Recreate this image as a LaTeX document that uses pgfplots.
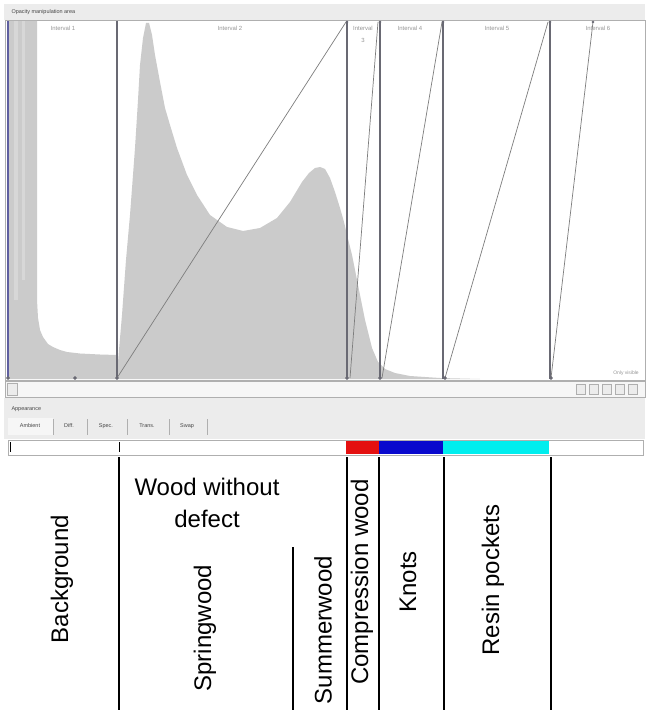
\documentclass[border=0pt]{standalone}
\usepackage{fontspec}
\setmainfont{Liberation Sans}
\usepackage{pgfplots}
\pgfplotsset{compat=1.18}
\definecolor{hist}{RGB}{203,203,203}
\definecolor{histl}{RGB}{215,215,215}
\definecolor{uibg}{RGB}{236,236,236}
\definecolor{frame}{RGB}{175,175,175}
\definecolor{linec}{RGB}{105,105,115}
\definecolor{ivl}{RGB}{95,95,160}
\definecolor{diag}{RGB}{125,125,125}
\definecolor{cred}{RGB}{228,16,16}
\definecolor{cblue}{RGB}{8,8,205}
\definecolor{ccyan}{RGB}{0,238,238}
\definecolor{uitext}{RGB}{70,70,70}
\definecolor{ivtext}{RGB}{150,150,150}
\begin{document}
\begin{tikzpicture}
\begin{axis}[scale only axis, width=645bp, height=713bp,
  xmin=0, xmax=645, ymin=0, ymax=713, y dir=reverse,
  hide axis, clip=false, no markers]
% page background
\addplot[fill=white, draw=none] coordinates {(0,0)(645,0)(645,713)(0,713)} -- cycle;
% title bar
\addplot[fill=uibg, draw=none] coordinates {(4,4)(645,4)(645,20)(4,20)} -- cycle;
% histogram area
\addplot[fill=white, draw=frame, line width=0.6bp] coordinates {(5,20)(645,20)(645,380)(5,380)} -- cycle;
% histogram interval 1
\addplot[fill=hist, draw=none] coordinates {(8,21)(37,21)(37,300)(38,318)(40,330)(43,337)(48,344)(53,347)(60,350)(67,352)(80,353.5)(100,354.5)(117,355)(117,379)(8,379)} -- cycle;
\addplot[fill=histl, draw=none] coordinates {(14,21)(18,21)(18,300)(14,300)} -- cycle;
\addplot[fill=histl, draw=none] coordinates {(22,21)(25,21)(25,280)(22,280)} -- cycle;
% histogram main
\addplot[fill=hist, draw=none] coordinates {(117,379)(117,375)(119,350)(122,315)(126,260)(130,215)(133,175)(135,148)(138,100)(140,65)(143,38)(146,23)(149,23)(152,35)(155,55)(160,82)(165,108)(170,125)(177,148)(187,175)(197,195)(210,215)(227,227)(243,231)(260,228)(277,218)(290,202)(302,182)(309,173)(315,168)(320,167)(325,169)(330,178)(335,192)(340,208)(344,222)(347,235)(352,255)(358,285)(365,320)(372,348)(378,362)(385,369)(395,373)(410,376)(440,378)(480,379)} -- cycle;
% interval lines
\addplot[draw=ivl, line width=1.6bp] coordinates {(8,21)(8,379)};
\addplot[draw=linec, line width=1.1bp] coordinates {(117,21)(117,379)};
\addplot[draw=linec, line width=1.1bp] coordinates {(347,21)(347,379)};
\addplot[draw=linec, line width=1.1bp] coordinates {(380,21)(380,379)};
\addplot[draw=linec, line width=1.1bp] coordinates {(443,21)(443,379)};
\addplot[draw=linec, line width=1.1bp] coordinates {(550,21)(550,379)};
% diagonals
\addplot[draw=diag, line width=0.7bp] coordinates {(117,378)(346,22)};
\addplot[draw=diag, line width=0.7bp] coordinates {(350,378)(378,22)};
\addplot[draw=diag, line width=0.7bp] coordinates {(382,378)(442,22)};
\addplot[draw=diag, line width=0.7bp] coordinates {(445,378)(548,22)};
\addplot[draw=diag, line width=0.7bp] coordinates {(551,378)(593,22)};
% markers
\addplot[only marks, mark=*, mark size=1.6bp, color=linec] coordinates {(8,378)(75,378)(117,378)(347,378)(380,378)(445,378)(551,378)};
\addplot[only marks, mark=*, mark size=1.2bp, color=linec] coordinates {(347,22)(380,22)(443,22)(550,22)(593,22)};
% interval labels
\node[font=\fontsize{6}{7}\selectfont, text=ivtext] at (axis cs:63,28) {Interval 1};
\node[font=\fontsize{6}{7}\selectfont, text=ivtext] at (axis cs:230,28) {Interval 2};
\node[font=\fontsize{6}{7}\selectfont, text=ivtext] at (axis cs:363,28) {Interval};
\node[font=\fontsize{6}{7}\selectfont, text=ivtext] at (axis cs:363,40) {3};
\node[font=\fontsize{6}{7}\selectfont, text=ivtext] at (axis cs:410,28) {Interval 4};
\node[font=\fontsize{6}{7}\selectfont, text=ivtext] at (axis cs:497,28) {Interval 5};
\node[font=\fontsize{6}{7}\selectfont, text=ivtext] at (axis cs:598,28) {Interval 6};
\node[font=\fontsize{5.5}{6}\selectfont, text=uitext, anchor=west] at (axis cs:8,12) {Opacity manipulation area};
\node[font=\fontsize{5}{6}\selectfont, text=ivtext] at (axis cs:626,373) {Only visible};
% scrollbar
\addplot[fill={rgb,255:red,246;green,246;blue,246}, draw=frame, line width=0.5bp] coordinates {(5,381)(645,381)(645,397)(5,397)} -- cycle;
\addplot[fill=uibg, draw=frame, line width=0.5bp] coordinates {(7,383)(17,383)(17,395)(7,395)} -- cycle;
\addplot[fill=uibg, draw=frame, line width=0.5bp] coordinates {(576,384)(585,384)(585,394)(576,394)} -- cycle;
\addplot[fill=uibg, draw=frame, line width=0.5bp] coordinates {(589,384)(598,384)(598,394)(589,394)} -- cycle;
\addplot[fill=uibg, draw=frame, line width=0.5bp] coordinates {(602,384)(611,384)(611,394)(602,394)} -- cycle;
\addplot[fill=uibg, draw=frame, line width=0.5bp] coordinates {(615,384)(624,384)(624,394)(615,394)} -- cycle;
\addplot[fill=uibg, draw=frame, line width=0.5bp] coordinates {(628,384)(637,384)(637,394)(628,394)} -- cycle;
% appearance panel
\addplot[fill=uibg, draw=none] coordinates {(4,398)(645,398)(645,439)(4,439)} -- cycle;
\node[font=\fontsize{5.5}{6}\selectfont, text=uitext, anchor=west] at (axis cs:8,409) {Appearance};
\addplot[fill={rgb,255:red,246;green,246;blue,246}, draw=none] coordinates {(8,418)(53,418)(53,435)(8,435)} -- cycle;
\addplot[draw=frame, line width=0.8bp] coordinates {(53,419)(53,435)};
\addplot[draw=frame, line width=0.8bp] coordinates {(87,419)(87,435)};
\addplot[draw=frame, line width=0.8bp] coordinates {(127,419)(127,435)};
\addplot[draw=frame, line width=0.8bp] coordinates {(169,419)(169,435)};
\addplot[draw=frame, line width=0.8bp] coordinates {(207,419)(207,435)};
\node[font=\fontsize{5.5}{6}\selectfont, text=uitext] at (axis cs:30,426) {Ambient};
\node[font=\fontsize{5.5}{6}\selectfont, text=uitext] at (axis cs:69,426) {Diff.};
\node[font=\fontsize{5.5}{6}\selectfont, text=uitext] at (axis cs:106,426) {Spec.};
\node[font=\fontsize{5.5}{6}\selectfont, text=uitext] at (axis cs:147,426) {Trans.};
\node[font=\fontsize{5.5}{6}\selectfont, text=uitext] at (axis cs:187,426) {Swap};
% colour bar
\addplot[fill=white, draw=frame, line width=0.7bp] coordinates {(8,440)(643,440)(643,455)(8,455)} -- cycle;
\addplot[fill=cred, draw=none] coordinates {(346,441)(379,441)(379,454)(346,454)} -- cycle;
\addplot[fill=cblue, draw=none] coordinates {(379,441)(443,441)(443,454)(379,454)} -- cycle;
\addplot[fill=ccyan, draw=none] coordinates {(443,441)(549,441)(549,454)(443,454)} -- cycle;
\addplot[draw=black, line width=0.7bp] coordinates {(10,442)(10,452)};
\addplot[draw=black, line width=0.7bp] coordinates {(119,442)(119,452)};
% class boundaries
\addplot[draw=black, line width=1.5bp] coordinates {(119,457)(119,710)};
\addplot[draw=black, line width=1.5bp] coordinates {(293,547)(293,710)};
\addplot[draw=black, line width=1.5bp] coordinates {(347,457)(347,710)};
\addplot[draw=black, line width=1.5bp] coordinates {(379,457)(379,710)};
\addplot[draw=black, line width=1.5bp] coordinates {(444,457)(444,710)};
\addplot[draw=black, line width=1.5bp] coordinates {(551,457)(551,710)};
% class labels
\node[font=\fontsize{24bp}{28bp}\selectfont, anchor=base] at (axis cs:207,495) {Wood without};
\node[font=\fontsize{24bp}{28bp}\selectfont, anchor=base] at (axis cs:207,527) {defect};
\node[font=\fontsize{24bp}{28bp}\selectfont, rotate=90] at (axis cs:62,579) {Background};
\node[font=\fontsize{24bp}{28bp}\selectfont, rotate=90] at (axis cs:205,628) {Springwood};
\node[font=\fontsize{24bp}{28bp}\selectfont, rotate=90] at (axis cs:323,630) {Summerwood};
\node[font=\fontsize{24bp}{28bp}\selectfont, rotate=90] at (axis cs:362,582) {Compression wood};
\node[font=\fontsize{24bp}{28bp}\selectfont, rotate=90] at (axis cs:408,582) {Knots};
\node[font=\fontsize{24bp}{28bp}\selectfont, rotate=90] at (axis cs:493,580) {Resin pockets};
\end{axis}
\end{tikzpicture}
\end{document}
